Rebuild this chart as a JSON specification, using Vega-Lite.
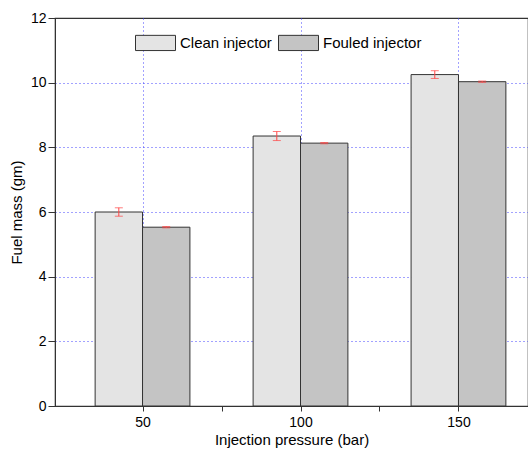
{
  "$schema": "https://vega.github.io/schema/vega-lite/v6.json",
  "width": 473,
  "height": 388,
  "autosize": {"type": "none"},
  "padding": {"left": 55, "top": 18, "right": 0, "bottom": 46},
  "background": "white",
  "config": {
    "font": "Liberation Sans",
    "view": {"stroke": "#333333", "strokeWidth": 1.2},
    "axis": {
      "labelFont": "Liberation Sans",
      "titleFont": "Liberation Sans",
      "labelFontSize": 14,
      "titleFontSize": 15,
      "titleFontWeight": "normal",
      "labelColor": "#000000",
      "titleColor": "#000000",
      "domainColor": "#333333",
      "tickColor": "#333333",
      "gridColor": "#4444ff",
      "gridDash": [1, 3],
      "gridWidth": 1
    }
  },
  "data": {
    "values": [
      {"pressure": 50, "injector": "Clean injector", "x0": 35, "x1": 50, "xc": 42.5, "mass": 6.0, "lo": 5.87, "hi": 6.13},
      {"pressure": 50, "injector": "Fouled injector", "x0": 50, "x1": 65, "xc": 57.5, "mass": 5.53, "lo": 5.51, "hi": 5.55},
      {"pressure": 100, "injector": "Clean injector", "x0": 85, "x1": 100, "xc": 92.5, "mass": 8.35, "lo": 8.21, "hi": 8.49},
      {"pressure": 100, "injector": "Fouled injector", "x0": 100, "x1": 115, "xc": 107.5, "mass": 8.13, "lo": 8.11, "hi": 8.15},
      {"pressure": 150, "injector": "Clean injector", "x0": 135, "x1": 150, "xc": 142.5, "mass": 10.25, "lo": 10.13, "hi": 10.37},
      {"pressure": 150, "injector": "Fouled injector", "x0": 150, "x1": 165, "xc": 157.5, "mass": 10.03, "lo": 10.01, "hi": 10.05}
    ]
  },
  "layer": [
    {
      "mark": {"type": "bar", "stroke": "#333333", "strokeWidth": 1},
      "encoding": {
        "x": {
          "field": "x0", "type": "quantitative",
          "scale": {"domain": [22.3, 172], "nice": false},
          "axis": {
            "title": "Injection pressure (bar)",
            "values": [50, 75, 100, 125, 150],
            "labelExpr": "datum.value % 50 == 0 ? datum.label : ''",
            "grid": true,
            "gridOpacity": {"condition": {"test": "datum.value % 50 == 0", "value": 1}, "value": 0},
            "tickSize": 5,
            "titlePadding": 3,
            "labelPadding": 4
          }
        },
        "x2": {"field": "x1"},
        "y": {
          "field": "mass", "type": "quantitative",
          "scale": {"domain": [0, 12], "nice": false},
          "axis": {
            "title": "Fuel mass (gm)",
            "values": [0, 1, 2, 3, 4, 5, 6, 7, 8, 9, 10, 11, 12],
            "labelExpr": "datum.value % 2 == 0 ? datum.label : ''",
            "grid": true,
            "gridOpacity": {"condition": {"test": "datum.value % 2 == 0 && datum.value > 0 && datum.value < 12", "value": 1}, "value": 0},
            "tickSize": {"condition": {"test": "datum.value % 2 == 0", "value": 7}, "value": 4},
            "titlePadding": 6
          }
        },
        "y2": {"datum": 0},
        "fill": {
          "field": "injector", "type": "nominal",
          "scale": {"domain": ["Clean injector", "Fouled injector"], "range": ["#e4e4e4", "#c4c4c4"]},
          "legend": {
            "title": null,
            "orient": "none",
            "legendX": 80,
            "legendY": 4,
            "direction": "horizontal",
            "symbolType": "M-1,-0.38H1V0.38H-1Z",
            "symbolSize": 1600,
            "symbolStrokeColor": "#333333",
            "symbolStrokeWidth": 1,
            "labelFontSize": 15,
            "labelFont": "Liberation Sans",
            "labelColor": "#000000",
            "columnPadding": 4,
            "labelOffset": 4
          }
        }
      }
    },
    {
      "mark": {"type": "rule", "color": "#ff4444", "strokeWidth": 1},
      "encoding": {
        "x": {"field": "xc", "type": "quantitative"},
        "y": {"field": "lo", "type": "quantitative"},
        "y2": {"field": "hi"}
      }
    },
    {
      "mark": {"type": "tick", "color": "#ff4444", "orient": "horizontal", "size": 8, "thickness": 1},
      "encoding": {
        "x": {"field": "xc", "type": "quantitative"},
        "y": {"field": "lo", "type": "quantitative"}
      }
    },
    {
      "mark": {"type": "tick", "color": "#ff4444", "orient": "horizontal", "size": 8, "thickness": 1},
      "encoding": {
        "x": {"field": "xc", "type": "quantitative"},
        "y": {"field": "hi", "type": "quantitative"}
      }
    }
  ]
}
